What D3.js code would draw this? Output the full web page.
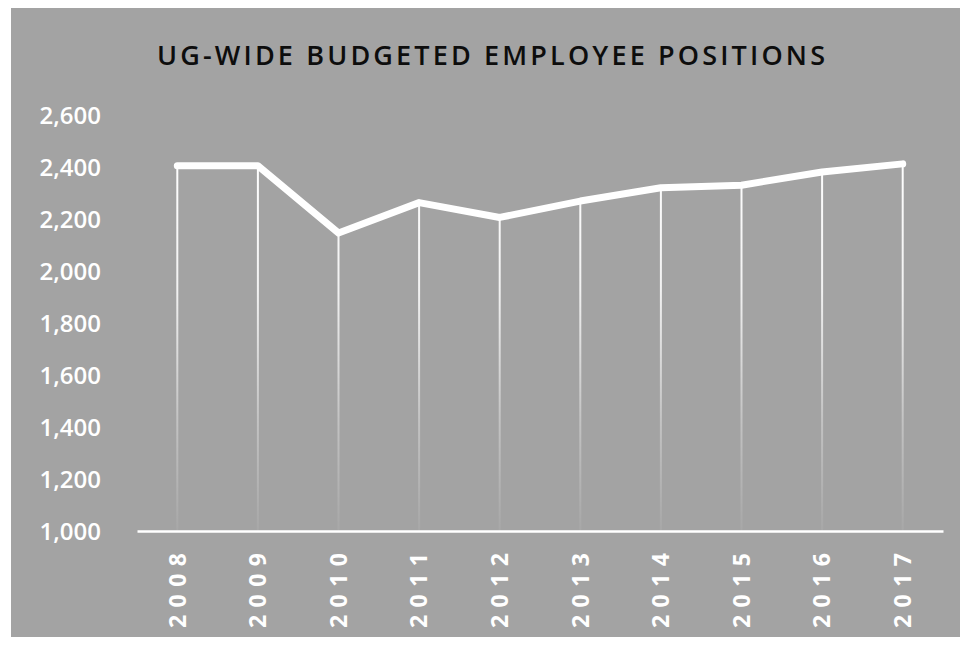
<!DOCTYPE html>
<html>
<head>
<meta charset="utf-8">
<script src="https://cdn.jsdelivr.net/npm/d3@7"></script>
<style>
  html, body { margin: 0; padding: 0; background: #ffffff; }
  svg { display: block; }
</style>
</head>
<body>
<svg id="chart" width="960" height="646"></svg>
<script>
// Budgeted employee positions by fiscal year
const years = ["2008", "2009", "2010", "2011", "2012", "2013", "2014", "2015", "2016", "2017"];
const positions = [2405, 2405, 2146, 2263, 2206, 2269, 2320, 2330, 2381, 2412];
const yTicks = [1000, 1200, 1400, 1600, 1800, 2000, 2200, 2400, 2600];
const titleText = "UG-WIDE BUDGETED EMPLOYEE POSITIONS";

const svg = d3.select("#chart");
const W = 960, H = 646;

// chart area panel
svg.append("rect")
  .attr("x", 11).attr("y", 8)
  .attr("width", W - 11).attr("height", 629)
  .attr("fill", "#a3a3a3");

const plot = { left: 137, right: 943, top: 115, bottom: 531 };

const x = d3.scaleBand().domain(years).range([plot.left, plot.right]);
const y = d3.scaleLinear().domain([1000, 2600]).range([plot.bottom, plot.top]);

// fading gradient for the drop lines
const defs = svg.append("defs");
const grad = defs.append("linearGradient")
  .attr("id", "dropFade")
  .attr("gradientUnits", "userSpaceOnUse")
  .attr("x1", 0).attr("x2", 0)
  .attr("y1", 160).attr("y2", plot.bottom);
grad.append("stop").attr("offset", "0").attr("stop-color", "#fff").attr("stop-opacity", 1);
grad.append("stop").attr("offset", "0.35").attr("stop-color", "#fff").attr("stop-opacity", 0.85);
grad.append("stop").attr("offset", "0.7").attr("stop-color", "#fff").attr("stop-opacity", 0.35);
grad.append("stop").attr("offset", "1").attr("stop-color", "#fff").attr("stop-opacity", 0.05);

// title
svg.append("text")
  .attr("x", 491).attr("y", 65)
  .attr("text-anchor", "middle")
  .attr("font-family", "'Open Sans', sans-serif")
  .attr("font-weight", 600)
  .attr("font-size", 27)
  .attr("fill", "#0d0d0d")
  .attr("textLength", 668)
  .attr("lengthAdjust", "spacing")
  .text(titleText);

// y axis labels
const yAxis = d3.axisLeft(y).tickValues(yTicks).tickFormat(d3.format(",")).tickSize(0).tickPadding(0);
const gy = svg.append("g").attr("transform", "translate(101,0)").call(yAxis);
gy.select(".domain").remove();
gy.selectAll("text")
  .attr("fill", "#ffffff")
  .attr("font-family", "'Open Sans', sans-serif")
  .attr("font-weight", 600)
  .attr("font-size", 24)
  .attr("dy", "0.35em");

// drop lines from each point to the axis
svg.append("g").selectAll("line")
  .data(positions)
  .join("line")
  .attr("x1", (d, i) => x(years[i]) + x.bandwidth() / 2)
  .attr("x2", (d, i) => x(years[i]) + x.bandwidth() / 2)
  .attr("y1", d => y(d))
  .attr("y2", plot.bottom)
  .attr("stroke", "url(#dropFade)")
  .attr("stroke-width", 2);

// x axis baseline and rotated year labels
const xAxis = d3.axisBottom(x).tickSize(0).tickPadding(0);
const gx = svg.append("g").attr("transform", `translate(0,${plot.bottom})`).call(xAxis);
gx.select(".domain")
  .attr("stroke", "#ffffff")
  .attr("stroke-width", 2.5);
gx.selectAll("text")
  .attr("fill", "#ffffff")
  .attr("font-family", "'Open Sans', sans-serif")
  .attr("font-weight", 700)
  .attr("font-size", 23)
  .attr("text-anchor", "start")
  .attr("transform", "translate(0,97) rotate(-90)")
  .attr("x", 0).attr("y", 0)
  .attr("dy", "0.36em")
  .attr("textLength", 75)
  .attr("lengthAdjust", "spacing");

// data line
const line = d3.line()
  .x((d, i) => x(years[i]) + x.bandwidth() / 2)
  .y(d => y(d));

svg.append("path")
  .datum(positions)
  .attr("d", line)
  .attr("fill", "none")
  .attr("stroke", "#ffffff")
  .attr("stroke-width", 7)
  .attr("stroke-linejoin", "round")
  .attr("stroke-linecap", "round");
</script>
</body>
</html>
